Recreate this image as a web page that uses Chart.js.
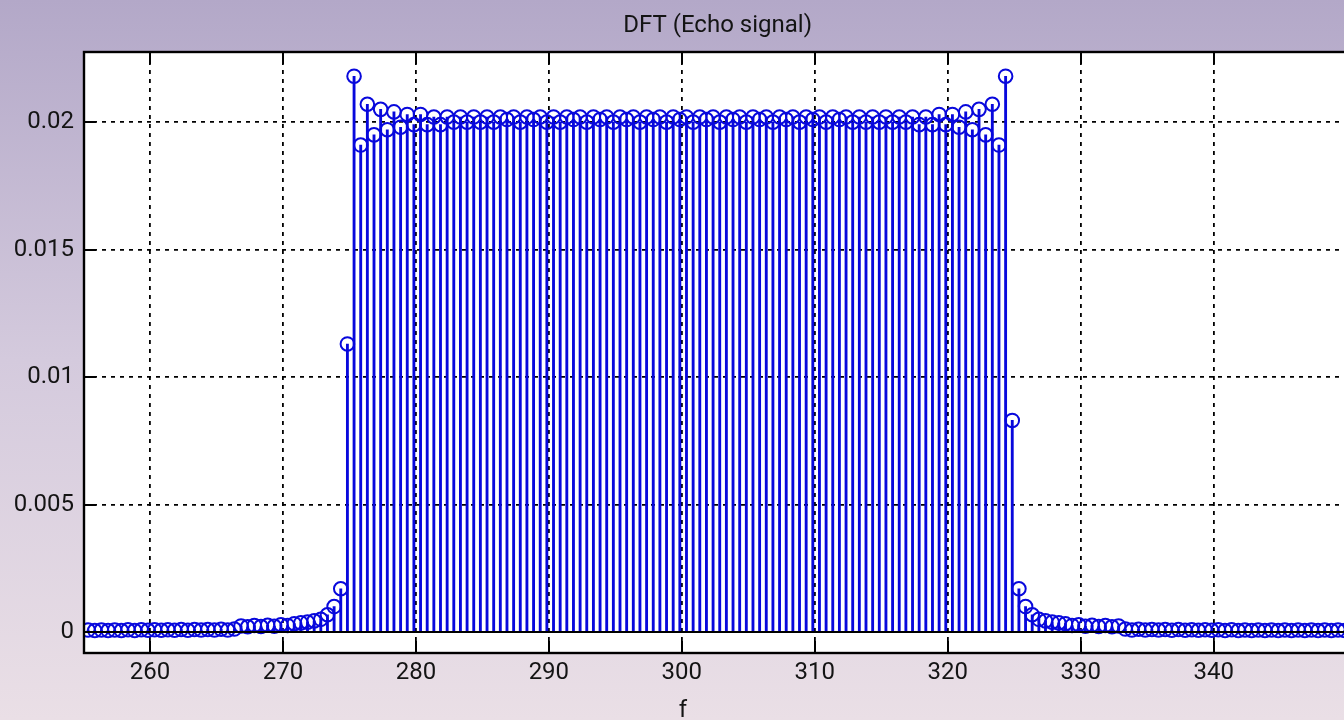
<!DOCTYPE html>
<html>
<head>
<meta charset="utf-8">
<title>DFT (Echo signal)</title>
<script src="https://cdn.jsdelivr.net/npm/chart.js@4.4.1/dist/chart.umd.min.js"></script>
<style>
  html, body { margin: 0; padding: 0; overflow: hidden; }
  body {
    width: 1344px;
    height: 720px;
    background: linear-gradient(to bottom, #b3a8c8 0%, #d4cadd 50%, #eadfe6 100%);
  }
  #wrap { position: absolute; left: 0; top: 0; width: 1360px; height: 720px; }
</style>
</head>
<body>
<div id="wrap"><canvas id="dft"></canvas></div>
<script>
// frequency grid of the DFT bins (start + step), magnitudes
const FREQ_START = 255.35
const FREQ_STEP = 0.5
const MAGNITUDE = [
  0.00008, 0.00006, 0.00008, 0.00006, 0.00008, 0.00006, 0.00009, 0.00006, 0.00009, 0.00007,
  0.00009, 0.00007, 0.00009, 0.00007, 0.0001, 0.00007, 0.0001, 0.00008, 0.0001, 0.00008,
  0.00011, 0.00008, 0.00012, 0.00024, 0.00021, 0.00026, 0.00022, 0.00027, 0.00023, 0.00029,
  0.00026, 0.00033, 0.00036, 0.00039, 0.00044, 0.0005, 0.00068, 0.001, 0.0017, 0.0113,
  0.0218, 0.0191, 0.0207, 0.0195, 0.0205, 0.0197, 0.0204, 0.0198, 0.0203, 0.0199,
  0.0203, 0.0199, 0.0202, 0.0199, 0.0202, 0.02, 0.0202, 0.02, 0.0202, 0.02,
  0.0202, 0.02, 0.0202, 0.0201, 0.0202, 0.02, 0.0202, 0.0201, 0.0202, 0.02,
  0.0202, 0.02, 0.0202, 0.0201, 0.0202, 0.02, 0.0202, 0.0201, 0.0202, 0.02,
  0.0202, 0.0201, 0.0202, 0.02, 0.0202, 0.0201, 0.0202, 0.02, 0.0202, 0.0201,
  0.0202, 0.02, 0.0202, 0.0201, 0.0202, 0.02, 0.0202, 0.0201, 0.0202, 0.02,
  0.0202, 0.0201, 0.0202, 0.02, 0.0202, 0.0201, 0.0202, 0.02, 0.0202, 0.0201,
  0.0202, 0.02, 0.0202, 0.0201, 0.0202, 0.02, 0.0202, 0.02, 0.0202, 0.02,
  0.0202, 0.02, 0.0202, 0.02, 0.0202, 0.0199, 0.0202, 0.0199, 0.0203, 0.0199,
  0.0203, 0.0198, 0.0204, 0.0197, 0.0205, 0.0195, 0.0207, 0.0191, 0.0218, 0.0083,
  0.0017, 0.001, 0.00068, 0.0005, 0.00044, 0.00039, 0.00036, 0.00033, 0.00026, 0.00029,
  0.00023, 0.00027, 0.00022, 0.00026, 0.00021, 0.00024, 0.00012, 0.00008, 0.00011, 0.00008,
  0.0001, 0.00008, 0.0001, 0.00007, 0.0001, 0.00007, 0.00009, 0.00007, 0.00009, 0.00007,
  0.00009, 0.00006, 0.00009, 0.00006, 0.00008, 0.00006, 0.00008, 0.00006, 0.00008, 0.00006,
  0.00008, 0.00006, 0.00008, 0.00006, 0.00008, 0.00006, 0.00008, 0.00006, 0.00008, 0.00006,
]
const X_TICKS = [260, 270, 280, 290, 300, 310, 320, 330, 340]
const Y_TICKS = [0, 0.005, 0.01, 0.015, 0.02]
const TITLE = 'DFT (Echo signal)'
const X_LABEL = 'f'

const X_MIN = 255.04
const X_MAX = 350.34
const Y_MIN = -0.00082
const Y_MAX = 0.02275

const STEM_BLUE = '#0808dc'
const INK = '#141414'
const FONT = { family: 'Roboto', size: 24 }

const stems = MAGNITUDE.map((y, i) => ({ x: FREQ_START + i * FREQ_STEP, y }))

const plotFrame = {
  id: 'plotFrame',
  beforeDraw(chart) {
    const { ctx, chartArea: a } = chart
    ctx.save()
    ctx.fillStyle = '#ffffff'
    ctx.fillRect(a.left, a.top, a.right - a.left, a.bottom - a.top)
    ctx.restore()
  },
  afterDraw(chart) {
    const { ctx, chartArea: a, scales } = chart
    const tick = 12
    ctx.save()
    ctx.strokeStyle = '#000'
    ctx.lineWidth = 2
    ctx.beginPath()
    for (const v of X_TICKS) {
      const px = Math.round(scales.x.getPixelForValue(v))
      ctx.moveTo(px, a.bottom); ctx.lineTo(px, a.bottom - tick)
      ctx.moveTo(px, a.top); ctx.lineTo(px, a.top + tick)
    }
    for (const v of Y_TICKS) {
      const py = Math.round(scales.y.getPixelForValue(v))
      ctx.moveTo(a.left, py); ctx.lineTo(a.left + tick, py)
    }
    ctx.stroke()
    ctx.lineWidth = 2.4
    ctx.strokeRect(a.left, a.top, a.right - a.left, a.bottom - a.top)

    ctx.fillStyle = INK
    ctx.font = '24px Roboto'
    ctx.textAlign = 'center'
    ctx.textBaseline = 'middle'
    ctx.fillText(TITLE, (a.left + a.right) / 2, 26)
    ctx.fillText(X_LABEL, a.left + 599, 711)
    ctx.restore()
  },
}

new Chart(document.getElementById('dft'), {
  type: 'bar',
  data: {
    datasets: [
      {
        type: 'line',
        data: [{ x: X_MIN, y: 0 }, { x: X_MAX, y: 0 }],
        borderColor: '#000',
        borderWidth: 2,
        pointRadius: 0,
        order: 0,
      },
      {
        type: 'scatter',
        data: stems,
        pointStyle: 'circle',
        pointRadius: 6.8,
        borderColor: STEM_BLUE,
        backgroundColor: 'rgba(0,0,0,0)',
        pointBorderWidth: 2,
        order: 1,
      },
      {
        type: 'bar',
        data: stems,
        backgroundColor: STEM_BLUE,
        barThickness: 2.2,
        borderWidth: 0,
        grouped: false,
        order: 2,
      },
    ],
  },
  options: {
    responsive: true,
    maintainAspectRatio: false,
    animation: false,
    events: [],
    layout: { padding: { top: 52, right: 8, left: 0, bottom: 0 } },
    plugins: { legend: { display: false }, tooltip: { enabled: false }, title: { display: false } },
    scales: {
      x: {
        type: 'linear',
        min: X_MIN,
        max: X_MAX,
        offset: false,
        afterBuildTicks: (s) => { s.ticks = X_TICKS.map((value) => ({ value })) },
        afterFit: (s) => { s.height = 67 },
        grid: { color: '#000', lineWidth: 1.8, drawTicks: false, offset: false },
        border: { display: false, dash: [4, 5] },
        ticks: { font: FONT, color: INK, padding: 6, maxRotation: 0, autoSkip: false, callback: (v) => String(v) },
      },
      y: {
        min: Y_MIN,
        max: Y_MAX,
        afterBuildTicks: (s) => { s.ticks = Y_TICKS.map((value) => ({ value })) },
        afterFit: (s) => { s.width = 84 },
        grid: { color: '#000', lineWidth: 1.8, drawTicks: false },
        border: { display: false, dash: [4, 5] },
        ticks: { font: FONT, color: INK, padding: 10, callback: (v) => String(v) },
      },
    },
  },
  plugins: [plotFrame],
})
</script>
</body>
</html>
